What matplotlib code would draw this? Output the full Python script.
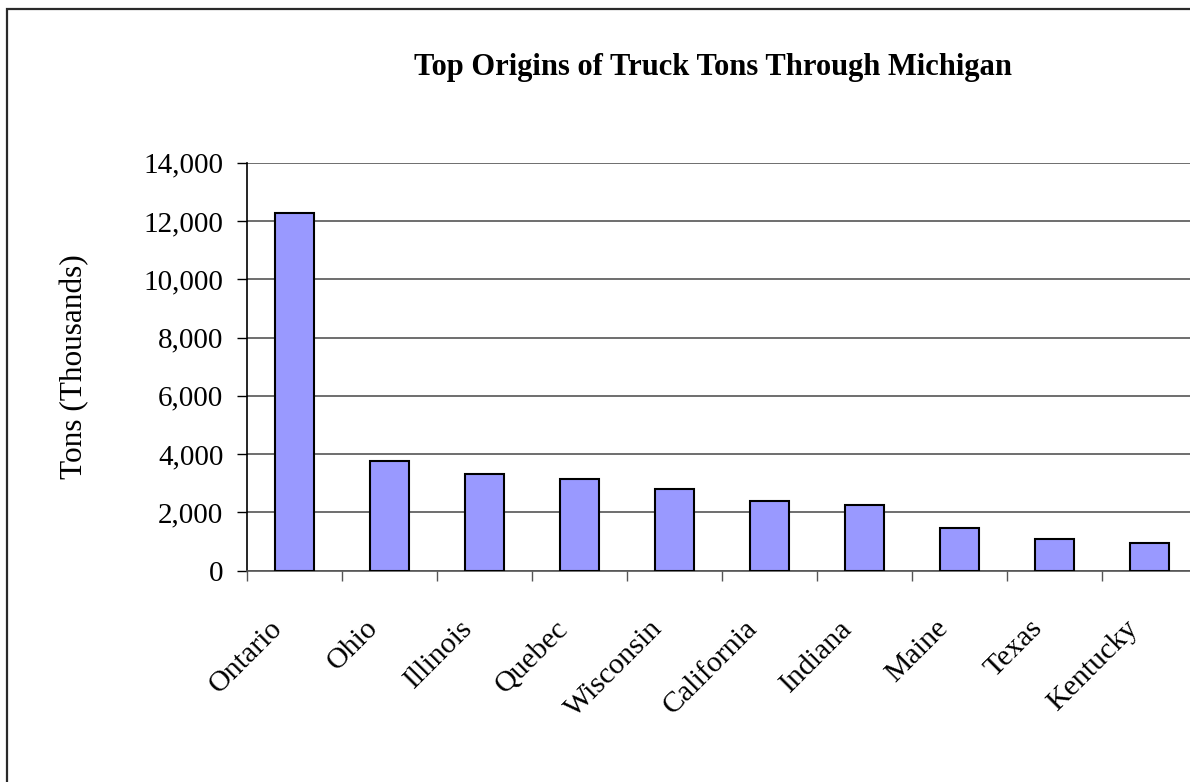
import matplotlib
matplotlib.use("Agg")
import matplotlib.pyplot as plt
import matplotlib.transforms as mtransforms
import numpy as np
from matplotlib.patches import Rectangle
from matplotlib.ticker import FuncFormatter, FixedLocator

categories = ["Ontario", "Ohio", "Illinois", "Quebec", "Wisconsin",
              "California", "Indiana", "Maine", "Texas", "Kentucky"]
tons = [12280, 3780, 3310, 3150, 2800, 2400, 2265, 1455, 1100, 960]
yticks = [0, 2000, 4000, 6000, 8000, 10000, 12000, 14000]

title = "Top Origins of Truck Tons Through Michigan"
ylabel = "Tons (Thousands)"

plt.rcParams['font.family'] = ['Liberation Serif', 'DejaVu Serif']

W, H = 1190, 782
fig = plt.figure(figsize=(W / 100, H / 100), dpi=100)

# outer frame (cropped on right / bottom)
fig.patches.append(Rectangle((6.7 / W, -0.1), 1.2, 1 - 9 / H + 0.1,
                             transform=fig.transFigure, fill=False,
                             edgecolor='#2a2a2a', linewidth=1.6))

left, right = 247 / W, 1197 / W
bottom, top = 1 - 570.7 / H, 1 - 162.7 / H
ax = fig.add_axes([left, bottom, right - left, top - bottom])

x = np.arange(len(categories))
ax.bar(x, tons, width=0.42, color='#9999FF', edgecolor='black', linewidth=1.5, zorder=3)

ax.set_xlim(-0.5, len(categories) - 0.5)
ax.set_ylim(0, 14000)
ax.set_yticks(yticks)
ax.yaxis.set_major_formatter(FuncFormatter(lambda v, p: f"{int(v):,}"))
ax.grid(axis='y', color='#555555', linewidth=1.2, zorder=0)

ax.xaxis.set_major_locator(FixedLocator(np.arange(len(categories) + 1) - 0.5))
ax.xaxis.set_minor_locator(FixedLocator(x))
ax.set_xticklabels([], minor=False)
ax.set_xticklabels(categories, minor=True, rotation=45, ha='right', va='top',
                   rotation_mode='anchor', fontsize=21.5)
ax.tick_params(axis='x', which='major', length=7, width=1, color='#555555', direction='out')
ax.tick_params(axis='x', which='minor', length=0, pad=32)
ax.tick_params(axis='y', length=7, width=1, color='black', direction='out', pad=10, labelsize=21)

shift = mtransforms.ScaledTranslation(-25 / 100, 0, fig.dpi_scale_trans)
for lbl in ax.get_xticklabels(minor=True):
    lbl.set_transform(lbl.get_transform() + shift)

for s in ['top', 'right']:
    ax.spines[s].set_visible(False)
ax.spines['left'].set_color('black')
ax.spines['left'].set_linewidth(1.2)
ax.spines['bottom'].set_color('#555555')
ax.spines['bottom'].set_linewidth(1.2)

ax.set_ylabel(ylabel, fontsize=22.5, labelpad=39)

fig.text(713 / W, 1 - 68 / H, title, ha='center', va='center', fontsize=22, fontweight='bold')

fig.savefig("out.png", dpi=100)
